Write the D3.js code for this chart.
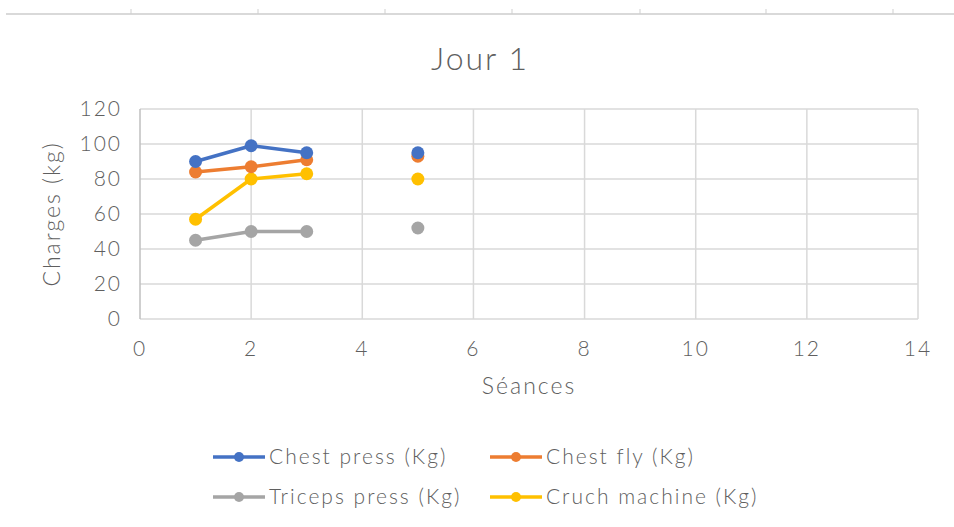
<!DOCTYPE html>
<html>
<head>
<meta charset="utf-8">
<script src="https://cdn.jsdelivr.net/npm/d3@7"></script>
<style>
  body { margin: 0; background: #fff; }
  text { font-family: "Lato", "DejaVu Sans", sans-serif; font-weight: 300; fill: #5f5f5f; letter-spacing: 2px; }
</style>
</head>
<body>
<div class="vis-jour"></div>
<script>
const seances = [1, 2, 3, 4, 5];
const chestPress = [90, 99, 95, null, 95];
const chestFly = [84, 87, 91, null, 93];
const tricepsPress = [45, 50, 50, null, 52];
const cruchMachine = [57, 80, 83, null, 80];
const seriesNames = ['Chest press (Kg)', 'Chest fly (Kg)', 'Triceps press (Kg)', 'Cruch machine (Kg)'];
const seriesColors = ['#4472c4', '#ed7d31', '#a5a5a5', '#ffc000'];
const xTicks = [0, 2, 4, 6, 8, 10, 12, 14];
const yTicks = [0, 20, 40, 60, 80, 100, 120];

const outerWidth = 954, outerHeight = 527;
const margin = {top: 109, right: 36, bottom: 208, left: 140};
const width = outerWidth - margin.left - margin.right;
const height = outerHeight - margin.top - margin.bottom;

const root = d3.select('.vis-jour')
    .append('svg')
    .attr('width', outerWidth)
    .attr('height', outerHeight);

// sheet border at the top
root.append('line')
    .attr('x1', 6).attr('x2', outerWidth)
    .attr('y1', 14).attr('y2', 14)
    .attr('stroke', '#d9d9d9').attr('stroke-width', 2);
[131, 258, 385, 512, 640, 766, 893].forEach(x => {
    root.append('line')
        .attr('x1', x).attr('x2', x)
        .attr('y1', 9).attr('y2', 14)
        .attr('stroke', '#cfcfcf').attr('stroke-width', 1);
});

const svg = root.append('g')
    .attr('transform', 'translate(' + margin.left + ',' + margin.top + ')');

const x = d3.scaleLinear().domain([0, 14]).range([0, width]);
const y = d3.scaleLinear().domain([0, 120]).range([height, 0]);

// grid
svg.selectAll('.hgrid')
    .data(yTicks)
    .enter().append('line')
    .attr('x1', 0).attr('x2', width)
    .attr('y1', d => y(d)).attr('y2', d => y(d))
    .attr('stroke', '#d9d9d9').attr('stroke-width', 1.5);
svg.selectAll('.vgrid')
    .data(xTicks)
    .enter().append('line')
    .attr('y1', 0).attr('y2', height)
    .attr('x1', d => x(d)).attr('x2', d => x(d))
    .attr('stroke', d => d === 0 ? '#bfbfbf' : '#d9d9d9').attr('stroke-width', 1.5);

// tick labels
svg.selectAll('.ylab')
    .data(yTicks)
    .enter().append('text')
    .attr('x', -18)
    .attr('y', d => y(d))
    .attr('dy', '0.35em')
    .attr('text-anchor', 'end')
    .style('font-size', '21px')
    .text(d => d);
svg.selectAll('.xlab')
    .data(xTicks)
    .enter().append('text')
    .attr('x', d => x(d))
    .attr('y', height + 37)
    .attr('text-anchor', 'middle')
    .style('font-size', '21px')
    .text(d => d);

// titles
root.append('text')
    .attr('x', 480).attr('y', 70)
    .attr('text-anchor', 'middle')
    .style('font-size', '32px')
    .text('Jour 1');
root.append('text')
    .attr('x', margin.left + width / 2).attr('y', 394)
    .attr('text-anchor', 'middle')
    .style('font-size', '23px')
    .text('Séances');
root.append('text')
    .attr('transform', 'translate(60,' + (margin.top + height / 2) + ') rotate(-90)')
    .attr('text-anchor', 'middle')
    .style('font-size', '23px')
    .text('Charges (kg)');

// series
const allValues = [chestPress, chestFly, tricepsPress, cruchMachine];
const dataset = allValues.map((vals, i) => ({
    label: seriesNames[i],
    color: seriesColors[i],
    points: seances.map((s, j) => ({x: s, y: vals[j]}))
}));

const line = d3.line()
    .defined(d => d.y !== null)
    .x(d => x(d.x))
    .y(d => y(d.y));

// draw in reverse so Chest press sits on top
const seriesG = svg.selectAll('.series')
    .data(dataset.slice().reverse())
    .enter().append('g');

seriesG.append('path')
    .attr('d', d => line(d.points))
    .attr('fill', 'none')
    .attr('stroke', d => d.color)
    .attr('stroke-width', 3.5)
    .attr('stroke-linejoin', 'round');

seriesG.selectAll('circle')
    .data(d => d.points.filter(p => p.y !== null).map(p => ({...p, color: d.color})))
    .enter().append('circle')
    .attr('cx', d => x(d.x))
    .attr('cy', d => y(d.y))
    .attr('r', 6.5)
    .attr('fill', d => d.color);

// legend
const legendPos = [[213, 457], [490, 457], [213, 497], [490, 497]];
const legendG = root.selectAll('.legend')
    .data(dataset)
    .enter().append('g')
    .attr('transform', (d, i) => 'translate(' + legendPos[i][0] + ',' + legendPos[i][1] + ')');

legendG.append('line')
    .attr('x1', 0).attr('x2', 52)
    .attr('stroke', d => d.color)
    .attr('stroke-width', 3.5);
legendG.append('circle')
    .attr('cx', 26).attr('r', 5)
    .attr('fill', d => d.color);
legendG.append('text')
    .attr('x', 56)
    .attr('dy', '0.35em')
    .style('font-size', '21px')
    .text(d => d.label);
</script>
</body>
</html>
